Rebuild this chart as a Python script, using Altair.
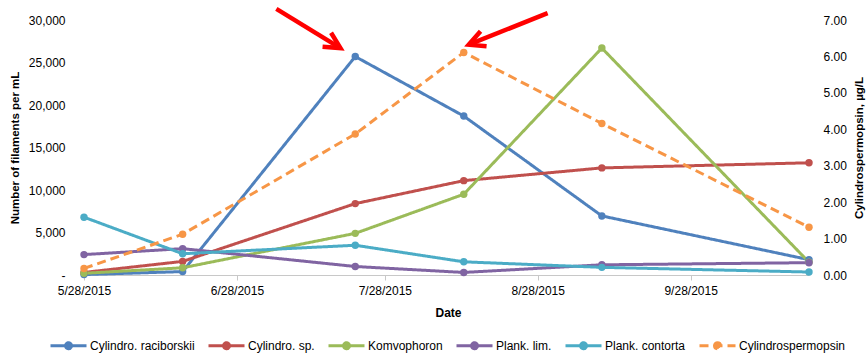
import math
import altair as alt
import pandas as pd

# ---- sampling dates and series -------------------------------------------
sample_dates = ["2015-05-28", "2015-06-17", "2015-07-22",
                "2015-08-13", "2015-09-10", "2015-10-22"]

series_names = ["Cylindro. raciborskii", "Cylindro. sp.", "Komvophoron",
                "Plank. lim.", "Plank. contorta", "Cylindrospermopsin"]
series_colors = ["#4F81BD", "#C0504D", "#9BBB59", "#8064A2", "#4BACC6", "#F79646"]

# filaments per mL (left axis)
raciborskii = [50, 400, 25700, 18700, 6950, 1800]
cylindro_sp = [300, 1600, 8400, 11100, 12600, 13200]
komvophoron = [200, 850, 4900, 9500, 26700, 1500]
plank_lim = [2400, 3100, 1000, 300, 1200, 1450]
plank_contorta = [6800, 2500, 3500, 1550, 900, 350]

# toxin concentration, ug/L (right axis)
cylindrospermopsin = [0.18, 1.12, 3.87, 6.11, 4.16, 1.31]

# call-out arrows (tail -> head, in date / filament units)
arrow_from_dates = ["2015-07-06", "2015-08-30"]
arrow_from_counts = [31300, 30800]
arrow_to_dates = ["2015-07-19", "2015-08-14"]
arrow_to_counts = [26700, 27100]

left_ticks = [0, 5000, 10000, 15000, 20000, 25000, 30000]
right_ticks = [0, 1, 2, 3, 4, 5, 6, 7]
x_tick_months = [5, 6, 7, 8, 9]

# ---- layout -----------------------------------------------------------------
PLOT_W, PLOT_H = 725, 255
COUNT_MAX, TOXIN_MAX = 30000, 7
FONT = "Liberation Sans"

counts = [raciborskii, cylindro_sp, komvophoron, plank_lim, plank_contorta]
count_rows = []
for name, vals in zip(series_names[:5], counts):
    for d, v in zip(sample_dates, vals):
        count_rows.append({"date": d, "series": name, "value": v})
count_df = pd.DataFrame(count_rows)

toxin_df = pd.DataFrame({"date": sample_dates,
                         "series": series_names[5],
                         "value": cylindrospermopsin})

# arrowhead rotation from the on-screen direction of each shaft
d0 = pd.Timestamp(sample_dates[0])
d1 = pd.Timestamp(sample_dates[-1])
px_per_day = PLOT_W / (d1 - d0).days
px_per_count = PLOT_H / COUNT_MAX
angles = []
for fd, fc, td, tc in zip(arrow_from_dates, arrow_from_counts, arrow_to_dates, arrow_to_counts):
    dx = (pd.Timestamp(td) - pd.Timestamp(fd)).days * px_per_day
    dy = (fc - tc) * px_per_count
    angles.append(math.degrees(math.atan2(dy, dx)) % 360)

arrow_df = pd.DataFrame({"start": arrow_from_dates, "start_count": arrow_from_counts,
                         "end": arrow_to_dates, "end_count": arrow_to_counts,
                         "head_angle": angles})

# ---- scales / axes ------------------------------------------------------------
def utc_day(s):
    t = pd.Timestamp(s)
    return alt.DateTime(year=t.year, month=t.month, date=t.day, utc=True)

x_scale = alt.Scale(type="utc", domain=[utc_day(sample_dates[0]), utc_day(sample_dates[-1])], nice=False)
count_scale = alt.Scale(domain=[0, COUNT_MAX], nice=False)
toxin_scale = alt.Scale(domain=[0, TOXIN_MAX], nice=False)
color_scale = alt.Scale(domain=series_names, range=series_colors)
dash_scale = alt.Scale(domain=series_names, range=[[1, 0]] * 5 + [[9, 5]])

x_axis = alt.Axis(
    title="Date",
    values=[alt.DateTime(year=2015, month=m, date=28, utc=True) for m in x_tick_months],
    labelExpr="utcFormat(datum.value, '%-m/%-d/%Y')",
    labelFlush=False, labelOverlap=False,
    domainColor="#C8C8C8", tickColor="#C8C8C8", tickSize=5, labelPadding=5,
    titleFontSize=12, titleX=364, titleY=37, titleAlign="center", titleBaseline="middle",
)
left_axis = alt.Axis(
    title="Number of filaments per mL",
    values=left_ticks,
    labelExpr="datum.value == 0 ? '-\u00a0\u00a0' : format(datum.value, ',')",
    domain=False, ticks=False, labelPadding=19,
    titleAngle=270, titleX=-69, titleY=PLOT_H / 2, titleAlign="center", titleBaseline="middle",
)
right_axis = alt.Axis(
    title="Cylindrospermopsin, µg/L",
    orient="right", values=right_ticks, format=".2f",
    domain=False, ticks=False, labelPadding=14,
    titleAngle=270, titleX=50, titleY=PLOT_H / 2, titleAlign="center", titleBaseline="middle",
)

# legend glyph: a short line with a dot in the middle
LEGEND_GLYPH = ("M-1,0L1,0"
                "M-0.083,0A0.083,0.083,0,1,1,0.083,0A0.083,0.083,0,1,1,-0.083,0"
                "M-0.167,0A0.167,0.167,0,1,1,0.167,0A0.167,0.167,0,1,1,-0.167,0")
legend = alt.Legend(
    title=None, orient="none", legendX=-35, legendY=306,
    direction="horizontal", columns=6, padding=0,
    symbolType=LEGEND_GLYPH, symbolSize=1296, symbolStrokeWidth=3,
    labelFont=FONT, labelFontSize=12, labelColor="#000000",
    labelOffset=2, columnPadding=7, labelLimit=400,
)

x_enc = alt.X("date:T", scale=x_scale, axis=x_axis)
color_enc = alt.Color("series:N", scale=color_scale, legend=legend)
dash_enc = alt.StrokeDash("series:N", scale=dash_scale, legend=legend)

# ---- left axis: filament counts --------------------------------------------------
count_base = alt.Chart(count_df).encode(
    x=x_enc,
    y=alt.Y("value:Q", scale=count_scale, axis=left_axis),
    color=color_enc,
)
count_lines = count_base.mark_line(strokeWidth=3, strokeJoin="round").encode(strokeDash=dash_enc)
count_points = count_base.mark_point(filled=True, size=55, opacity=1)

arrow_shafts = alt.Chart(arrow_df).mark_rule(color="#FF0000", strokeWidth=4.5).encode(
    x=alt.X("start:T", scale=x_scale, axis=x_axis),
    x2="end:T",
    y=alt.Y("start_count:Q", scale=count_scale, axis=left_axis),
    y2="end_count:Q",
)
arrow_heads = alt.Chart(arrow_df).mark_point(
    shape="M-1,-0.51L0,0L-1,0.51", filled=False, size=1024,
    strokeWidth=4.5, color="#FF0000", opacity=1, strokeJoin="miter",
).encode(
    x=alt.X("end:T", scale=x_scale, axis=x_axis),
    y=alt.Y("end_count:Q", scale=count_scale, axis=left_axis),
    angle=alt.Angle("head_angle:Q", scale=None),
)

left_layer = alt.layer(count_lines, count_points, arrow_shafts, arrow_heads)

# ---- right axis: toxin -----------------------------------------------------------
toxin_base = alt.Chart(toxin_df).encode(
    x=x_enc,
    y=alt.Y("value:Q", scale=toxin_scale, axis=right_axis),
    color=color_enc,
)
toxin_line = toxin_base.mark_line(strokeWidth=3, strokeJoin="round").encode(strokeDash=dash_enc)
toxin_points = toxin_base.mark_point(filled=True, size=55, opacity=1)
right_layer = alt.layer(toxin_line, toxin_points)

chart = (
    alt.layer(left_layer, right_layer)
    .resolve_scale(y="independent")
    .properties(
        width=PLOT_W, height=PLOT_H,
        autosize=alt.AutoSizeParams(type="none"),
        padding={"left": 84, "top": 20, "right": 59, "bottom": 78},
        background="white",
    )
    .configure_view(stroke=None)
    .configure_axis(
        grid=False,
        labelFont=FONT, labelFontSize=12, labelColor="#000000",
        titleFont=FONT, titleFontSize=11.5, titleFontWeight="bold", titleColor="#000000",
    )
)

chart.save("out.html", embed_options={"renderer": "svg", "actions": False})
